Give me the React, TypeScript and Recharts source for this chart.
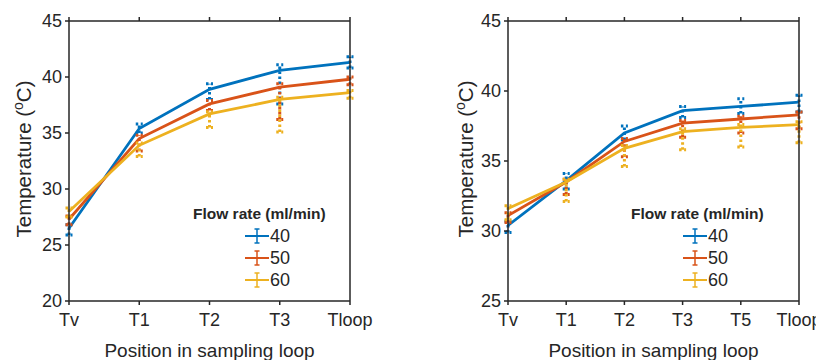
import { ErrorBar, Line, LineChart, XAxis, YAxis } from 'recharts'

// left panel
const leftPositions = ['Tv', 'T1', 'T2', 'T3', 'Tloop']
const left40 = [26.5, 35.4, 38.9, 40.6, 41.3]
const left50 = [27.3, 34.5, 37.6, 39.1, 39.8]
const left60 = [28.0, 33.9, 36.7, 38.0, 38.6]
// [below, above]
const left40Err = [[0.6, 0.3], [0.4, 0.4], [0.9, 0.5], [3.0, 0.5], [0.5, 0.5]]
const left50Err = [[0.5, 0.3], [1.1, 0.3], [0.6, 0.3], [2.9, 0.3], [0.5, 0.2]]
const left60Err = [[0.5, 0.3], [1.0, 0.2], [1.2, 0.2], [2.9, 0.2], [0.5, 0.2]]

// right panel
const rightPositions = ['Tv', 'T1', 'T2', 'T3', 'T5', 'Tloop']
const right40 = [30.4, 33.6, 37.0, 38.6, 38.9, 39.2]
const right50 = [31.1, 33.5, 36.4, 37.7, 38.0, 38.3]
const right60 = [31.6, 33.5, 35.9, 37.1, 37.4, 37.6]
const right40Err = [[0.5, 0.3], [0.6, 0.5], [0.5, 0.5], [0.5, 0.3], [0.5, 0.55], [0.7, 0.5]]
const right50Err = [[0.5, 0.2], [0.9, 0.2], [1.1, 0.2], [1.0, 0.2], [1.0, 0.2], [1.0, 0.2]]
const right60Err = [[0.8, 0.2], [1.4, 0.2], [1.3, 0.2], [1.3, 0.2], [1.4, 0.2], [1.3, 0.2]]

const flowRates = ['40', '50', '60']
const COLORS = ['#0072BD', '#D95319', '#EDB120']
const INK = '#262626'
const FONT = '"Liberation Sans", Arial, sans-serif'

function buildRows(cats: string[], s: number[][], e: number[][][]) {
  return cats.map((c, i) => ({
    pos: c,
    v40: s[0][i], v50: s[1][i], v60: s[2][i],
    e40: e[0][i], e50: e[1][i], e60: e[2][i]
  }))
}

function FlowLegend({ left }: { left: number }) {
  return (
    <div style={{ position: 'absolute', left, top: 203, fontFamily: FONT, color: INK }}>
      <div style={{ fontWeight: 'bold', fontSize: 15.5, lineHeight: '22px', whiteSpace: 'nowrap' }}>Flow rate (ml/min)</div>
      {flowRates.map((f, i) => (
        <div key={f} style={{ display: 'flex', alignItems: 'center', height: 22, marginLeft: 52 }}>
          <svg width={24} height={20}>
            <line x1={0} y1={10} x2={24} y2={10} stroke={COLORS[i]} strokeWidth={2} />
            <line x1={12} y1={3} x2={12} y2={17} stroke={COLORS[i]} strokeWidth={1.5} />
            <line x1={9.5} y1={3} x2={14.5} y2={3} stroke={COLORS[i]} strokeWidth={1.5} />
            <line x1={9.5} y1={17} x2={14.5} y2={17} stroke={COLORS[i]} strokeWidth={1.5} />
          </svg>
          <span style={{ fontSize: 18, marginLeft: 1 }}>{f}</span>
        </div>
      ))}
    </div>
  )
}

function YLabel({ x }: { x: number }) {
  return (
    <text
      x={x}
      y={159}
      transform={`rotate(-90 ${x} 159)`}
      textAnchor="middle"
      fill={INK}
      fontSize={20.5}
      fontFamily={FONT}
    >
      Temperature (<tspan baselineShift="super" fontSize={14}>o</tspan>C)
    </text>
  )
}

function Panel({ rows, domain, ticks, yWidth, right, legendLeft, labelX }: {
  rows: ReturnType<typeof buildRows>
  domain: [number, number]
  ticks: number[]
  yWidth: number
  right: number
  legendLeft: number
  labelX: number
}) {
  const tick = { fill: INK, fontSize: 18, fontFamily: FONT }
  const axisLine = { stroke: INK, strokeWidth: 1.5 }
  const keys = ['v40', 'v50', 'v60']
  const errs = ['e40', 'e50', 'e60']
  return (
    <div style={{ position: 'relative', width: 408, height: 360 }}>
      <LineChart width={408} height={360} data={rows} margin={{ top: 20, right: right - 1, bottom: 0, left: 0 }}>
        <XAxis
          dataKey="pos"
          height={59}
          tick={tick}
          axisLine={axisLine}
          tickLine={axisLine}
          tickSize={4}
          tickMargin={8}
          interval={0}
          label={{ value: 'Position in sampling loop', position: 'insideBottom', offset: 3, fill: INK, fontSize: 19, fontFamily: FONT }}
        />
        <XAxis
          xAxisId="top"
          orientation="top"
          dataKey="pos"
          height={1}
          tickFormatter={() => ''}
          axisLine={axisLine}
          tickLine={axisLine}
          tickSize={4}
          interval={0}
        />
        <YAxis
          domain={domain}
          ticks={ticks}
          width={yWidth}
          tick={tick}
          axisLine={axisLine}
          tickLine={axisLine}
          tickSize={4}
          tickMargin={3}
          allowDataOverflow
        />
        <YAxis
          yAxisId="right"
          orientation="right"
          domain={domain}
          ticks={ticks}
          width={1}
          tickFormatter={() => ''}
          axisLine={axisLine}
          tickLine={axisLine}
          tickSize={4}
        />
        {keys.map((k, i) => (
          <Line
            key={k}
            dataKey={k}
            stroke={COLORS[i]}
            strokeWidth={2.8}
            dot={false}
            isAnimationActive={false}
          >
            <ErrorBar
              dataKey={errs[i]}
              direction="y"
              width={3.5}
              stroke={COLORS[i]}
              strokeWidth={3}
              strokeDasharray="2.5 2.5"
              isAnimationActive={false}
            />
          </Line>
        ))}
        <YLabel x={labelX} />
      </LineChart>
      <FlowLegend left={legendLeft} />
    </div>
  )
}

export default function App() {
  const leftRows = buildRows(leftPositions, [left40, left50, left60], [left40Err, left50Err, left60Err])
  const rightRows = buildRows(rightPositions, [right40, right50, right60], [right40Err, right50Err, right60Err])
  return (
    <div style={{ position: 'absolute', left: 0, top: 0, width: 816, height: 360, background: '#fff' }}>
      <div style={{ position: 'absolute', left: 0, top: 0 }}>
        <Panel rows={leftRows} domain={[20, 45]} ticks={[20, 25, 30, 35, 40, 45]} yWidth={69} right={58} legendLeft={193} labelX={31} />
      </div>
      <div style={{ position: 'absolute', left: 408, top: 0 }}>
        <Panel rows={rightRows} domain={[25, 45]} ticks={[25, 30, 35, 40, 45]} yWidth={100} right={17} legendLeft={223} labelX={65} />
      </div>
    </div>
  )
}
